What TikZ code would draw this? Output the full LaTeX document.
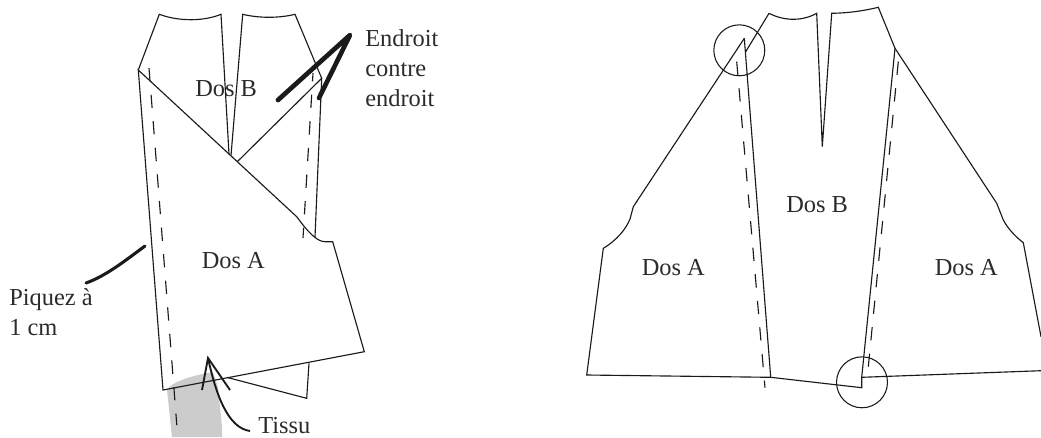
\documentclass[tikz,border=0pt]{standalone}
\usepackage{fontspec}
\setmainfont{Liberation Serif}
\usepackage{xcolor}
\usetikzlibrary{calc}
\definecolor{ink}{RGB}{26,26,26}
\definecolor{txtink}{RGB}{45,42,42}
\definecolor{cloth}{RGB}{204,204,204}
\tikzset{
  pat/.style   ={draw=ink, line width=.85pt, line join=miter},
  seam/.style  ={draw=ink, line width=.85pt, dash pattern=on 10pt off 10pt},
  ring/.style  ={draw=ink, line width=.8pt},
  lbl/.style   ={anchor=base west, inner sep=0pt, text=txtink, align=left,
                 font=\fontsize{18.3}{22.5}\selectfont},
  lead/.style  ={draw=ink, line width=3.5pt, line cap=round, line join=round},
  leadf/.style ={draw=ink, line width=2.3pt, line cap=round},
  leadt/.style ={draw=ink, line width=1.4pt},
}
\begin{document}
\begin{tikzpicture}[x=.75pt, y=-.75pt]
\useasboundingbox (0,0) rectangle (1041,437);
\fill[cloth] (167,390) .. controls (172,381) and (195,375) .. (213,372)
  -- (218,387) -- (222,427) -- (222,437) -- (172,437) -- cycle;
\draw[pat] (138.3,70) -- (159.3,14.3) .. controls (180,22) and (205,21) .. (221,14.3) -- (229,154);
\draw[pat] (231,155.6) -- (242.7,14.3) .. controls (260,18.5) and (280,18) .. (295,14.3)
  -- (321.7,78.3) -- (315,237);
\draw[pat] (321.7,78.3) -- (237.3,161.7);
\draw[pat] (309,363.3) -- (306.7,398.3) -- (226.7,377.3);
\draw[pat] (138.3,70) -- (296.7,216.7) -- (301.7,223.3) .. controls (310,234) and (318,241.7) .. (325,241.7)
  -- (332.7,241.7) -- (364.3,351.7) -- (163,390) -- cycle;
\draw[seam] (149,68) -- (176.8,425);
\draw[seam, dash phase=3.75pt] (313,73) -- (303,238);
\draw[pat] (769,13.3) .. controls (785,21.5) and (803,21) .. (816.7,13.3) -- (822.3,146.7) -- (831.7,13.3)
  .. controls (850,13) and (865,10.5) .. (878.3,7.3) -- (895,48.3);
\draw[pat] (769,13.3) -- (745.7,51.7);
\draw[pat] (744.3,38.3) -- (770.7,377.3) -- (861.7,387.7) -- (861.7,377.3) -- (895,48.3);
\draw[pat] (770.7,377.3) -- (586.7,375) -- (603.3,248.3) .. controls (617,240) and (626,229) .. (630,219)
  -- (633.3,206.7) -- (744.3,38.3);
\draw[pat] (861.7,377.3) -- (1041,370.7);
\draw[pat] (895,48.3) -- (996.7,203.3) -- (1003.3,220) .. controls (1008,229) and (1016,237) .. (1023.3,242.7) -- (1041,336.7);
\draw[seam] (736.7,61.7) -- (765,387.7);
\draw[seam] (898.3,61.7) -- (868.3,366.7);
\node[ring, circle, minimum size=38.2pt, inner sep=0pt] (rt) at (739.3,50.3) {};
\node[ring, circle, minimum size=38.2pt, inner sep=0pt] (rb) at (862,382.3) {};
\node[lbl] (db1) at (195,96.7) {Dos B};
\node[lbl] (da1) at (201.5,268) {Dos A};
\node[lbl] (db2) at (786,212.3) {Dos B};
\node[lbl] (da2) at (641.5,275) {Dos A};
\node[lbl] (da3) at (934.5,275) {Dos A};
\node[lbl] (pq) at (9,335) {Piquez à\\1 cm};
\node[lbl] (ts) at (258,433) {Tissu};
\node[lbl] (ed) at (365,106.7) {Endroit\\contre\\endroit};
\coordinate (edtip) at (350,35);
\coordinate (eda) at (278,100);
\coordinate (edb) at (319,98);
\coordinate (pqa) at (145,246);
\coordinate (pqb) at (86,283);
\coordinate (tsa) at (250,431);
\coordinate (tstip) at (208,358);
\coordinate (tsl) at (202,390);
\coordinate (tsr) at (230,390);
\draw[lead] (eda) -- (edtip) -- (edb);
\draw[leadf] (pqb) .. controls (106,276) and (126,260) .. (pqa);
\draw[leadt] (tsl) -- (tstip) -- (tsr);
\draw[leadt] (tstip) .. controls (216,395) and (228,428) .. (tsa);
\end{tikzpicture}
\end{document}
